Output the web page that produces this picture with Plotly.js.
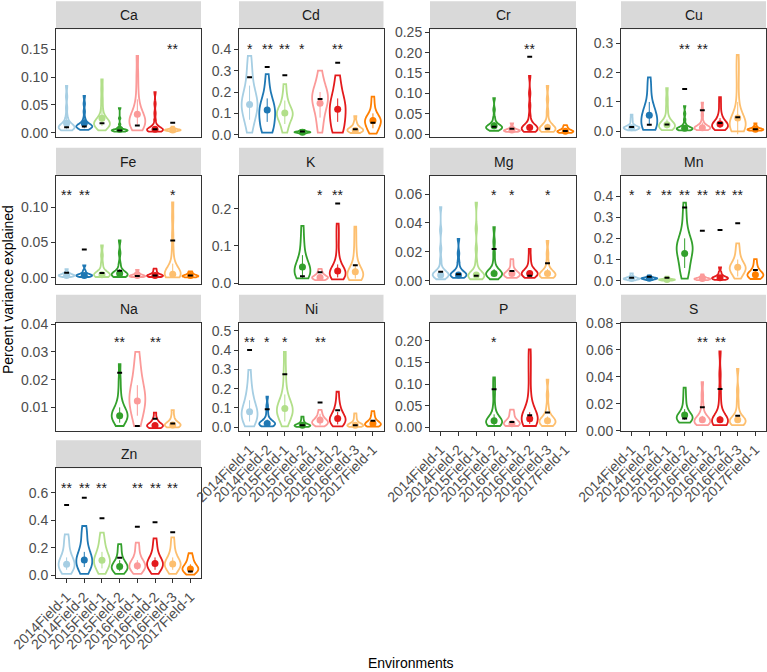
<!DOCTYPE html>
<html><head><meta charset="utf-8">
<script src="https://cdn.plot.ly/plotly-3.0.1.min.js"></script>
<style>html,body{margin:0;padding:0;background:#fff}#chart{width:767px;height:672px}</style>
</head><body><div id="chart"></div>
<script>
const elements = ['Ca','Cd','Cr','Cu','Fe','K','Mg','Mn','Na','Ni','P','S','Zn'];
const envs = ['2014Field-1','2014Field-2','2015Field-1','2015Field-2','2016Field-1','2016Field-2','2016Field-3','2017Field-1'];
const envColors = ['#A6CEE3','#1F78B4','#B2DF8A','#33A02C','#FB9A99','#E31A1C','#FDBF6F','#FF7F00'];

// estimated sample values per environment (null = not measured)
const samplesCa = [
 [0.004,0.006,0.007,0.008,0.008,0.009,0.009,0.010,0.010,0.011,0.012,0.013,0.015,0.018,0.022,0.030,0.045,0.065,0.084],
 [0.005,0.007,0.008,0.009,0.010,0.010,0.011,0.011,0.012,0.012,0.013,0.014,0.015,0.017,0.020,0.026,0.038,0.052,0.066],
 [0.004,0.008,0.010,0.012,0.013,0.014,0.015,0.016,0.017,0.018,0.019,0.020,0.022,0.025,0.028,0.033,0.045,0.060,0.078,0.096],
 [0.002,0.003,0.003,0.003,0.004,0.004,0.004,0.004,0.005,0.005,0.005,0.006,0.007,0.009,0.015,0.026,0.044],
 [0.004,0.008,0.011,0.013,0.015,0.017,0.019,0.021,0.023,0.025,0.028,0.031,0.035,0.040,0.048,0.060,0.080,0.105,0.138],
 [0.002,0.003,0.004,0.004,0.004,0.005,0.005,0.005,0.006,0.006,0.007,0.008,0.010,0.014,0.022,0.035,0.052,0.073],
 [0.002,0.003,0.004,0.004,0.004,0.005,0.005,0.005,0.006,0.006,0.007,0.009,0.011],
 null];
const samplesCd = [
 [0.01,0.04,0.07,0.09,0.11,0.12,0.13,0.14,0.15,0.16,0.17,0.19,0.21,0.24,0.28,0.32,0.369],
 [0.01,0.02,0.025,0.03,0.04,0.06,0.09,0.10,0.11,0.115,0.12,0.13,0.14,0.16,0.19,0.23,0.284],
 [0.01,0.03,0.05,0.07,0.08,0.09,0.095,0.10,0.105,0.11,0.12,0.14,0.16,0.19,0.237],
 [0.005,0.008,0.010,0.011,0.012,0.012,0.013,0.014,0.016,0.019,0.022],
 [0.01,0.04,0.07,0.10,0.12,0.14,0.15,0.16,0.17,0.18,0.19,0.20,0.21,0.23,0.26,0.30],
 [0.01,0.02,0.03,0.04,0.06,0.09,0.11,0.12,0.13,0.14,0.15,0.17,0.20,0.24,0.278],
 [0.008,0.012,0.015,0.018,0.020,0.022,0.024,0.027,0.030,0.036,0.045,0.060,0.087],
 [0.005,0.015,0.025,0.035,0.045,0.055,0.060,0.065,0.070,0.075,0.080,0.090,0.110,0.140,0.178]];
const samplesCr = [null,null,null,
 [0.008,0.010,0.012,0.013,0.014,0.015,0.016,0.017,0.018,0.019,0.020,0.022,0.025,0.030,0.040,0.060,0.088],
 [0.005,0.006,0.007,0.008,0.008,0.009,0.010,0.011,0.013,0.017,0.026],
 [0.005,0.008,0.009,0.010,0.011,0.012,0.013,0.014,0.015,0.016,0.018,0.020,0.024,0.030,0.045,0.070,0.100,0.143],
 [0.005,0.008,0.009,0.010,0.011,0.012,0.013,0.014,0.015,0.017,0.020,0.025,0.035,0.055,0.085,0.118],
 [0.003,0.004,0.005,0.006,0.006,0.007,0.008,0.010,0.013,0.017,0.022]];
const samplesCu = [
 [0.003,0.006,0.008,0.009,0.010,0.011,0.012,0.012,0.013,0.014,0.015,0.017,0.020,0.026,0.035,0.045,0.057],
 [0.005,0.008,0.010,0.012,0.014,0.017,0.022,0.030,0.040,0.045,0.050,0.055,0.060,0.065,0.070,0.078,0.090,0.110,0.135,0.160,0.184],
 [0.004,0.008,0.011,0.013,0.015,0.017,0.019,0.021,0.023,0.025,0.028,0.032,0.040,0.055,0.080,0.110,0.147],
 [0.003,0.005,0.006,0.007,0.007,0.008,0.008,0.009,0.010,0.011,0.012,0.014,0.018,0.025,0.040,0.060,0.086],
 [0.004,0.007,0.008,0.009,0.010,0.010,0.011,0.012,0.013,0.014,0.016,0.019,0.024,0.035,0.055,0.075,0.098],
 [0.004,0.008,0.011,0.013,0.015,0.017,0.019,0.021,0.024,0.027,0.030,0.034,0.040,0.050,0.065,0.090,0.116],
 [0.000,0.005,0.010,0.013,0.016,0.019,0.022,0.025,0.028,0.032,0.036,0.042,0.050,0.065,0.090,0.130,0.180,0.220,0.260],
 [0.002,0.003,0.004,0.005,0.006,0.006,0.007,0.008,0.010,0.013,0.018,0.027]];
const samplesFe = [
 [0.001,0.002,0.002,0.003,0.003,0.003,0.004,0.004,0.005,0.006,0.008,0.012],
 [0.001,0.002,0.002,0.003,0.003,0.003,0.004,0.004,0.005,0.007,0.010,0.0175],
 [0.001,0.002,0.003,0.003,0.004,0.004,0.004,0.005,0.006,0.008,0.012,0.020,0.032,0.046],
 [0.001,0.002,0.003,0.003,0.004,0.004,0.005,0.005,0.006,0.007,0.009,0.013,0.020,0.035,0.053],
 [0.001,0.001,0.002,0.002,0.002,0.003,0.003,0.004,0.005,0.007,0.011],
 [0.001,0.001,0.002,0.002,0.003,0.003,0.003,0.004,0.005,0.007,0.010,0.013],
 [0.0005,0.002,0.003,0.003,0.004,0.004,0.005,0.005,0.006,0.007,0.008,0.010,0.013,0.018,0.026,0.040,0.060,0.085,0.107],
 [0.0005,0.001,0.002,0.002,0.002,0.003,0.003,0.004,0.005,0.007,0.009]];
const samplesK = [null,null,null,
 [0.0126,0.016,0.020,0.024,0.028,0.032,0.036,0.040,0.045,0.052,0.060,0.075,0.095,0.120,0.154],
 [0.008,0.010,0.012,0.013,0.014,0.015,0.016,0.018,0.021,0.025,0.031,0.038],
 [0.010,0.014,0.017,0.019,0.021,0.023,0.025,0.027,0.029,0.032,0.035,0.040,0.048,0.060,0.080,0.110,0.135,0.160],
 [0.008,0.012,0.014,0.016,0.018,0.020,0.022,0.025,0.028,0.031,0.035,0.042,0.052,0.068,0.090,0.120,0.152],
 null];
const samplesMg = [
 [0.001,0.002,0.003,0.003,0.003,0.004,0.004,0.004,0.004,0.005,0.005,0.005,0.006,0.007,0.009,0.014,0.022,0.035,0.051],
 [0.002,0.003,0.003,0.003,0.004,0.004,0.004,0.004,0.005,0.005,0.006,0.007,0.009,0.013,0.019,0.029],
 [0.001,0.002,0.002,0.003,0.003,0.003,0.003,0.004,0.004,0.004,0.005,0.006,0.008,0.013,0.022,0.036,0.054],
 [0.001,0.003,0.003,0.004,0.004,0.004,0.005,0.005,0.005,0.006,0.006,0.007,0.009,0.013,0.019,0.027,0.037],
 [0.002,0.003,0.003,0.004,0.004,0.004,0.005,0.005,0.006,0.007,0.009,0.012,0.015],
 [0.002,0.003,0.003,0.004,0.004,0.005,0.005,0.005,0.006,0.006,0.007,0.008,0.010,0.013,0.017,0.022],
 [0.002,0.003,0.003,0.003,0.004,0.004,0.004,0.005,0.005,0.006,0.007,0.009,0.013,0.019,0.0275],
 null];
const samplesMn = [
 [0.002,0.005,0.007,0.008,0.009,0.010,0.011,0.012,0.014,0.018,0.025,0.035],
 [0.003,0.006,0.008,0.009,0.010,0.011,0.012,0.013,0.015,0.018,0.025],
 [0.001,0.002,0.003,0.004,0.005,0.005,0.006,0.007,0.009,0.012,0.019],
 [0.010,0.025,0.045,0.055,0.065,0.080,0.110,0.125,0.135,0.145,0.150,0.155,0.160,0.165,0.170,0.180,0.190,0.210,0.240,0.280,0.320,0.369],
 [0.003,0.005,0.006,0.007,0.008,0.009,0.010,0.011,0.013,0.017,0.022,0.030],
 [0.004,0.007,0.009,0.010,0.011,0.012,0.013,0.015,0.018,0.022,0.030,0.042,0.063],
 [0.010,0.025,0.035,0.045,0.050,0.055,0.060,0.065,0.070,0.075,0.085,0.100,0.120,0.145,0.176],
 [0.008,0.014,0.018,0.022,0.025,0.028,0.031,0.035,0.040,0.048,0.060,0.078,0.102]];
const samplesNa = [null,null,null,
 [0.0033,0.0045,0.005,0.0055,0.006,0.0065,0.007,0.0072,0.0075,0.008,0.0085,0.009,0.010,0.011,0.013,0.016,0.020,0.0256],
 [0.0033,0.006,0.008,0.0095,0.011,0.012,0.013,0.014,0.015,0.016,0.018,0.020,0.023,0.026,0.030],
 [0.0025,0.0028,0.003,0.0032,0.0034,0.0035,0.0037,0.004,0.0045,0.0052,0.0062,0.0081],
 [0.0028,0.003,0.0033,0.0035,0.0036,0.0038,0.004,0.0043,0.0048,0.0056,0.007,0.009],
 null];
const samplesNi = [
 [0.005,0.020,0.035,0.045,0.055,0.062,0.070,0.078,0.087,0.100,0.115,0.135,0.160,0.190,0.230,0.297],
 [0.005,0.008,0.010,0.012,0.014,0.016,0.018,0.020,0.022,0.025,0.028,0.033,0.040,0.055,0.080,0.110,0.159],
 [0.005,0.030,0.050,0.060,0.070,0.078,0.085,0.092,0.100,0.108,0.118,0.130,0.150,0.180,0.230,0.300,0.390],
 [0.002,0.004,0.006,0.007,0.008,0.009,0.010,0.012,0.015,0.020,0.028,0.040,0.055],
 [0.005,0.010,0.015,0.019,0.022,0.025,0.028,0.031,0.035,0.040,0.048,0.058,0.072,0.090],
 [0.005,0.015,0.022,0.028,0.033,0.038,0.043,0.048,0.054,0.062,0.075,0.090,0.110,0.140,0.184],
 [0.002,0.004,0.006,0.008,0.009,0.010,0.011,0.013,0.016,0.020,0.028,0.040,0.055,0.072],
 [0.003,0.006,0.009,0.012,0.014,0.016,0.018,0.021,0.025,0.030,0.038,0.050,0.065,0.084]];
const samplesP = [null,null,null,
 [0.003,0.006,0.008,0.009,0.010,0.011,0.012,0.013,0.014,0.016,0.018,0.021,0.026,0.035,0.050,0.075,0.095,0.115],
 [0.003,0.005,0.006,0.007,0.008,0.009,0.010,0.012,0.015,0.020,0.027,0.034,0.041],
 [0.003,0.008,0.011,0.013,0.015,0.017,0.019,0.021,0.023,0.026,0.030,0.035,0.045,0.060,0.085,0.120,0.150,0.180],
 [0.003,0.006,0.008,0.010,0.011,0.012,0.013,0.015,0.017,0.019,0.022,0.027,0.035,0.050,0.075,0.110],
 null];
const samplesS = [null,null,null,
 [0.006,0.007,0.008,0.0085,0.009,0.0095,0.010,0.0105,0.011,0.012,0.014,0.017,0.021,0.026,0.032],
 [0.004,0.005,0.005,0.006,0.006,0.0065,0.007,0.0075,0.008,0.0085,0.009,0.010,0.012,0.015,0.020,0.027,0.036],
 [0.004,0.005,0.005,0.006,0.006,0.0065,0.007,0.0075,0.008,0.0085,0.009,0.010,0.012,0.016,0.022,0.030,0.042,0.059],
 [0.004,0.005,0.005,0.006,0.006,0.0065,0.007,0.0075,0.008,0.0085,0.009,0.010,0.012,0.016,0.022,0.030,0.046],
 null];
const samplesZn = [
 [0.010,0.030,0.045,0.055,0.065,0.072,0.080,0.088,0.097,0.110,0.125,0.150,0.180,0.220,0.260,0.297],
 [0.010,0.040,0.060,0.075,0.085,0.095,0.105,0.115,0.125,0.140,0.160,0.190,0.230,0.280,0.320,0.358],
 [0.010,0.040,0.060,0.075,0.085,0.095,0.105,0.115,0.125,0.140,0.160,0.190,0.220,0.260,0.310],
 [0.010,0.025,0.035,0.043,0.050,0.056,0.062,0.068,0.075,0.085,0.100,0.120,0.150,0.190,0.227],
 [0.010,0.030,0.040,0.050,0.057,0.064,0.070,0.078,0.086,0.097,0.110,0.130,0.160,0.200,0.237],
 [0.010,0.035,0.050,0.060,0.068,0.076,0.084,0.092,0.100,0.112,0.128,0.150,0.180,0.220,0.268],
 [0.010,0.035,0.050,0.060,0.068,0.075,0.082,0.090,0.098,0.110,0.125,0.150,0.180,0.225,0.276],
 [0.005,0.020,0.028,0.034,0.039,0.044,0.049,0.054,0.060,0.068,0.080,0.095,0.115,0.135,0.160]];

// summary point (mean) and its interval, per element (rows in `elements` order)
const meanValues = [
 [0.017,0.017,0.026,0.006,0.033,0.006,0.005,null],
 [0.142,0.116,0.102,0.012,0.147,0.119,0.020,0.066],
 [null,null,null,0.020,0.010,0.016,0.016,0.007],
 [0.012,0.055,0.022,0.010,0.012,0.025,0.045,0.007],
 [0.003,0.003,0.004,0.006,0.003,0.003,0.005,0.003],
 [null,null,null,0.043,0.015,0.032,0.030,null],
 [0.004,0.004,0.004,0.005,0.005,0.005,0.005,null],
 [0.010,0.012,0.006,0.129,0.010,0.014,0.063,0.028],
 [null,null,null,0.0070,0.0123,0.0035,0.0037,null],
 [0.081,0.020,0.097,0.010,0.038,0.045,0.010,0.020],
 [null,null,null,0.015,0.008,0.020,0.015,null],
 [null,null,null,0.0116,0.008,0.008,0.008,null],
 [0.080,0.111,0.109,0.063,0.070,0.085,0.082,0.046]];
const rangeLo = [
 [0.006,0.008,0.012,0.004,0.015,0.004,0.004,null],
 [0.07,0.06,0.05,0.008,0.08,0.06,0.012,0.03],
 [null,null,null,0.012,0.007,0.010,0.010,0.005],
 [0.008,0.020,0.010,0.006,0.005,0.012,-0.010,0.005],
 [0.002,0.002,0.002,0.003,0.002,0.002,0.000,0.002],
 [null,null,null,0.012,0.010,0.015,0.012,null],
 [0.003,0.003,0.003,0.003,0.004,0.003,0.003,null],
 [0.006,0.008,0.003,0.06,0.006,0.008,0.02,0.01],
 [null,null,null,0.0045,0.007,0.003,0.0032,null],
 [0.03,0.005,0.03,0.005,0.01,0.015,0.005,0.008],
 [null,null,null,0.005,0.005,0.008,0.007,null],
 [null,null,null,0.008,0.006,0.006,0.006,null],
 [0.04,0.06,0.05,0.03,0.04,0.04,0.04,0.02]];
const rangeHi = [
 [0.030,0.026,0.045,0.008,0.060,0.010,0.006,null],
 [0.23,0.17,0.16,0.016,0.20,0.17,0.03,0.10],
 [null,null,null,0.030,0.014,0.025,0.025,0.010],
 [0.018,0.100,0.040,0.016,0.030,0.045,0.100,0.010],
 [0.005,0.006,0.008,0.012,0.005,0.005,0.020,0.005],
 [null,null,null,0.075,0.020,0.050,0.050,null],
 [0.006,0.006,0.006,0.008,0.007,0.007,0.008,null],
 [0.015,0.016,0.010,0.20,0.015,0.022,0.10,0.05],
 [null,null,null,0.010,0.018,0.0045,0.0045,null],
 [0.14,0.04,0.17,0.016,0.07,0.08,0.018,0.035],
 [null,null,null,0.030,0.012,0.035,0.025,null],
 [null,null,null,0.016,0.011,0.011,0.011,null],
 [0.13,0.17,0.17,0.11,0.11,0.13,0.13,0.08]];
// black dash values
const dashValues = [
 [0.0096,0.011,0.017,0.004,0.013,0.006,0.018,null],
 [0.269,0.317,0.278,0.015,0.167,0.3375,0.025,0.056],
 [null,null,null,0.018,0.013,0.19,0.013,0.0074],
 [0.015,0.022,0.023,0.144,0.072,0.028,0.048,0.007],
 [0.007,0.040,0.0066,0.010,0.0024,0.003,0.053,0.003],
 [null,null,null,0.018,0.029,0.214,0.0475,null],
 [0.0062,0.0044,0.0035,0.022,0.0067,0.0035,0.012,null],
 [0.014,0.019,0.014,0.346,0.236,0.239,0.271,0.050],
 [null,null,null,0.0225,0.0033,0.0059,0.0042,null],
 [0.40,0.093,0.274,0.010,0.128,0.088,0.010,0.034],
 [null,null,null,0.088,0.012,0.028,0.034,null],
 [null,null,null,0.009,0.0173,0.031,0.011,null],
 [0.51,0.564,0.414,0.128,0.353,0.385,0.312,0.027]];
const starLabels = [
 ['','','','','','','**',''],
 ['*','**','**','*','','**','',''],
 ['','','','','','**','',''],
 ['','','','**','**','','',''],
 ['**','**','','','','','*',''],
 ['','','','','*','**','',''],
 ['','','','*','*','','*',''],
 ['*','*','**','**','**','**','**',''],
 ['','','','**','','**','',''],
 ['**','*','*','','**','','',''],
 ['','','','*','','','',''],
 ['','','','','**','**','',''],
 ['**','**','**','','**','**','**','']];
const samplesByElement = [samplesCa,samplesCd,samplesCr,samplesCu,samplesFe,samplesK,samplesMg,samplesMn,samplesNa,samplesNi,samplesP,samplesS,samplesZn];

// ---- layout geometry (pixels) ----
const W = 767, H = 672;
const colX = [[56,201],[239,383.5],[430,576],[621,766]];
const rowY = [[29.3,137.3],[175.7,284.3],[322.7,431],[468.3,578.3]];
const stripH = 28;
const yRanges = [[-0.0083,0.186],[-0.0122,0.4937],[-0.0081,0.2574],[-0.0205,0.3477],[-0.0094,0.1449],[-0.0035,0.2888],[-0.0025,0.0727],[-0.017,0.4959],[0.0015,0.0405],[-0.0192,0.5414],[-0.0085,0.2416],[-0.0003,0.0803],[-0.0218,0.777]];
const yDtick = [0.05,0.1,0.05,0.1,0.05,0.1,0.02,0.1,0.01,0.1,0.05,0.02,0.2];
const yFmt = ['.2f','.1f','.2f','.1f','.2f','.1f','.2f','.1f','.2f','.1f','.2f','.2f','.1f'];
const labeledX = [9,10,11,12];
const FONT = 'Liberation Sans, Arial, Helvetica, sans-serif';

const traces = [], shapes = [], annotations = [];
const layout = {
  width: W, height: H, margin: {l:0,r:0,t:0,b:0}, showlegend: false,
  paper_bgcolor: '#fff', plot_bgcolor: '#fff', violinmode: 'overlay',
  font: {family: FONT, size: 14, color: '#4D4D4D'}
};

elements.forEach((el, k) => {
  const sfx = k === 0 ? '' : String(k + 1);
  const xa = 'x' + sfx, ya = 'y' + sfx;
  const col = k % 4, row = Math.floor(k / 4);
  const hasX = labeledX.includes(k);
  layout['xaxis' + sfx] = {
    domain: [colX[col][0] / W, colX[col][1] / W], anchor: ya,
    type: 'category', categoryorder: 'array', categoryarray: envs, range: [-0.6, 7.6],
    showline: true, mirror: true, linecolor: '#333333', linewidth: 1,
    showgrid: false, zeroline: false,
    ticks: hasX ? 'outside' : '', ticklen: 4, tickcolor: '#333333',
    showticklabels: hasX, tickangle: -45,
    tickfont: {family: FONT, size: 14, color: '#4D4D4D'}, fixedrange: true
  };
  layout['yaxis' + sfx] = {
    domain: [1 - rowY[row][1] / H, 1 - rowY[row][0] / H], anchor: xa,
    range: yRanges[k], tick0: 0, dtick: yDtick[k], tickformat: yFmt[k],
    showline: true, mirror: true, linecolor: '#333333', linewidth: 1,
    showgrid: false, zeroline: false, ticks: 'outside', ticklen: 4, tickcolor: '#333333',
    tickfont: {family: FONT, size: 14, color: '#4D4D4D'}, fixedrange: true
  };
  const smp = samplesByElement[k];
  envs.forEach((env, i) => {
    if (!smp[i]) return;
    traces.push({
      type: 'violin', x: smp[i].map(() => env), y: smp[i], xaxis: xa, yaxis: ya,
      line: {color: envColors[i], width: 1.8}, fillcolor: 'rgba(255,255,255,0)',
      points: false, spanmode: 'hard', scalemode: 'width', width: 0.9,
      box: {visible: false}, meanline: {visible: false}, hoverinfo: 'skip', name: env
    });
  });
  envs.forEach((env, i) => {
    const m = meanValues[k][i];
    if (m == null) return;
    traces.push({
      type: 'scatter', mode: 'markers', x: [env], y: [m], xaxis: xa, yaxis: ya,
      marker: {color: envColors[i], size: 7},
      error_y: {type: 'data', symmetric: false, array: [rangeHi[k][i] - m], arrayminus: [m - rangeLo[k][i]],
                color: envColors[i], thickness: 1, width: 0},
      hoverinfo: 'skip'
    });
  });
  traces.push({
    type: 'scatter', mode: 'markers', x: envs, y: dashValues[k], xaxis: xa, yaxis: ya,
    marker: {symbol: 'line-ew', size: 3.5, color: '#000', line: {color: '#000', width: 2}},
    hoverinfo: 'skip'
  });
  envs.forEach((env, i) => {
    if (!starLabels[k][i]) return;
    annotations.push({xref: xa, yref: ya + ' domain', x: i, y: 0.82, text: starLabels[k][i],
      showarrow: false, xanchor: 'center', yanchor: 'middle', font: {family: FONT, size: 14, color: '#1A1A1A'}});
  });
  shapes.push({type: 'rect', xref: 'paper', yref: 'paper', layer: 'below',
    x0: colX[col][0] / W, x1: colX[col][1] / W,
    y0: 1 - rowY[row][0] / H, y1: 1 - (rowY[row][0] - stripH) / H,
    fillcolor: '#D9D9D9', line: {width: 0}});
  annotations.push({xref: 'paper', yref: 'paper', x: (colX[col][0] + colX[col][1]) / 2 / W,
    y: 1 - (rowY[row][0] - stripH / 2) / H, text: el, showarrow: false,
    xanchor: 'center', yanchor: 'middle', font: {family: FONT, size: 14, color: '#1A1A1A'}});
});

annotations.push({xref: 'paper', yref: 'paper', x: 411 / W, y: 1 - 663 / H, text: 'Environments',
  showarrow: false, xanchor: 'center', yanchor: 'middle', font: {family: FONT, size: 14, color: '#000'}});
annotations.push({xref: 'paper', yref: 'paper', x: 8 / W, y: 1 - 290 / H, text: 'Percent variance explained',
  showarrow: false, textangle: -90, xanchor: 'center', yanchor: 'middle', font: {family: FONT, size: 14, color: '#000'}});

layout.shapes = shapes;
layout.annotations = annotations;
Plotly.newPlot('chart', traces, layout, {staticPlot: true, displayModeBar: false});
</script>
</body></html>
